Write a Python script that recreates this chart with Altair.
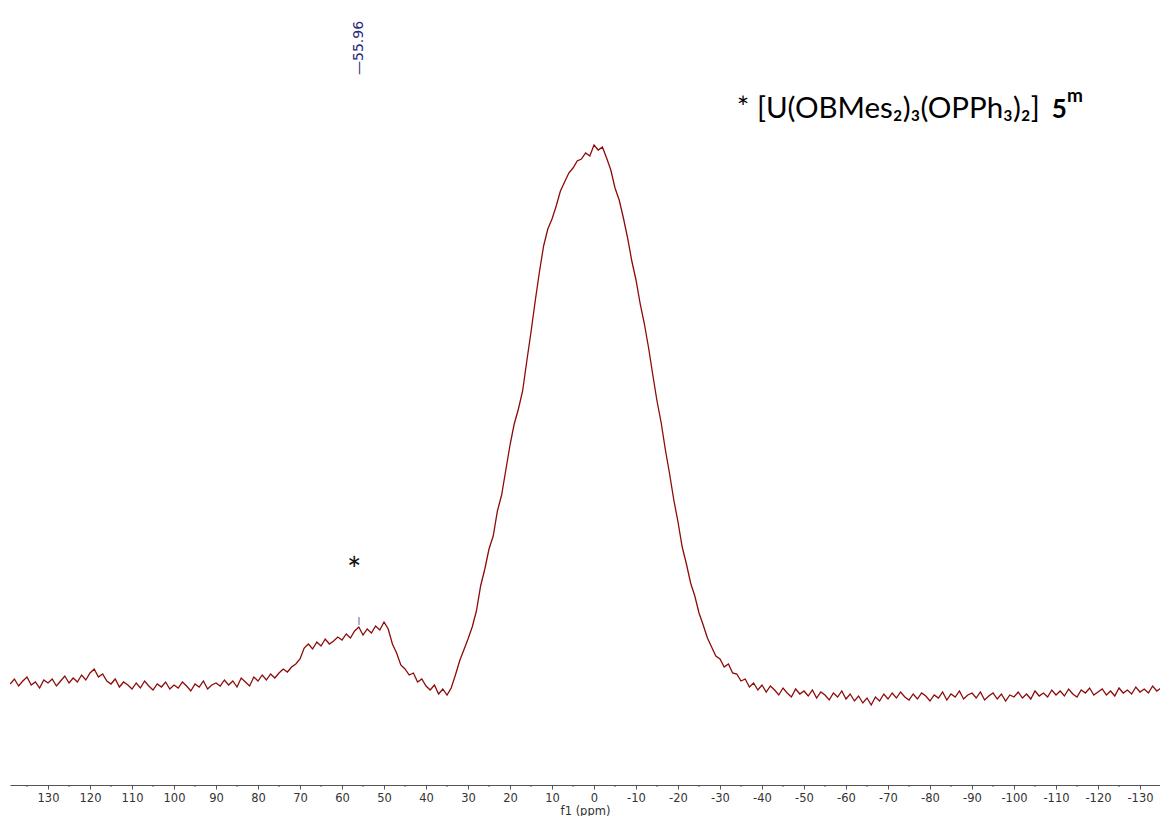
import altair as alt
import pandas as pd

# ---- spectrum (f1 ppm grid, intensity in arbitrary units) ----
ppm = list(range(139, -136, -1))
intensity = [
    101, 106, 99, 104, 108, 100, 103, 97, 105, 102,      # 139..130
    106, 99, 104, 109, 102, 107, 103, 110, 105, 112,     # 129..120
    116, 108, 111, 104, 101, 106, 98, 103, 100, 96,      # 119..110
    102, 97, 104, 99, 95, 101, 98, 103, 96, 100,         # 109..100
    97, 103, 99, 94, 101, 98, 104, 96, 100, 102,         # 99..90
    99, 105, 100, 104, 98, 107, 103, 99, 108, 104,       # 89..80
    110, 105, 111, 107, 112, 116, 113, 118, 121, 126,    # 79..70
    137, 141, 136, 143, 139, 146, 141, 144, 148, 145,    # 69..60
    151, 147, 154, 158, 150, 156, 152, 159, 155, 163,    # 59..50
    156, 141, 132, 120, 116, 110, 112, 103, 106, 99,     # 49..40
    95, 100, 91, 96, 90, 97, 110, 124, 135, 146,         # 39..30
    158, 174, 199, 216, 236, 249, 274, 290, 315, 340,    # 29..20
    361, 376, 394, 424, 453, 484, 513, 539, 556, 566,    # 19..10
    579, 594, 603, 612, 617, 624, 626, 632, 629, 640,    # 9..0
    635, 638, 627, 615, 597, 585, 567, 547, 524, 505,    # -1..-10
    481, 461, 437, 410, 384, 362, 335, 311, 285, 263,    # -11..-20
    238, 221, 202, 189, 172, 160, 147, 138, 129, 126,    # -21..-30
    118, 121, 112, 111, 104, 106, 98, 102, 95, 100,      # -31..-40
    93, 99, 95, 90, 97, 92, 88, 96, 91, 94,              # -41..-50
    89, 95, 87, 93, 90, 85, 92, 88, 94, 86,              # -51..-60
    91, 84, 89, 82, 87, 80, 88, 84, 91, 86,              # -61..-70
    92, 87, 93, 88, 85, 91, 86, 92, 89, 84,              # -71..-80
    90, 87, 93, 85, 91, 88, 94, 86, 90, 92,              # -81..-90
    87, 93, 85, 89, 92, 86, 91, 84, 90, 88,              # -91..-100
    93, 87, 91, 86, 94, 89, 92, 88, 95, 90,              # -101..-110
    94, 89, 96, 91, 88, 95, 92, 97, 90, 93,              # -111..-120
    96, 90, 94, 89, 97, 92, 95, 91, 98, 93,              # -121..-130
    96, 92, 99, 94, 97,                                  # -131..-135
]

major_ticks = list(range(130, -131, -10))
minor_ticks = list(range(135, -136, -10))

peak_ppm = [55.96]
peak_label = ["\u201455.96"]
peak_label_height = [710]
peak_mark_low = [160]
peak_mark_high = [168]

star_ppm = [57.1]
star_height = [203]

title_main = ["* [U(OBMes\u2082)\u2083(OPPh\u2083)\u2082]"]
title_main_ppm = [-34.0]
title_main_height = [667]
title_bold = ["5"]
title_bold_ppm = [-109.0]
title_sup = ["m"]
title_sup_ppm = [-112.6]
title_sup_height = [683]

# ---- layout ----
W, H = 1150, 777
x_scale = alt.Scale(domain=[-134.76, 139.05], reverse=True, nice=False, zero=False)
y_scale = alt.Scale(domain=[0, 777], nice=False, zero=False)

spec_df = pd.DataFrame({"ppm": ppm, "intensity": intensity})

x_axis = alt.Axis(
    values=major_ticks,
    labelExpr="'' + datum.value",
    title="f1 (ppm)",
    grid=False,
    domainColor="#555555",
    tickColor="#555555",
    tickSize=4,
    labelFont="DejaVu Sans",
    labelFontSize=11.5,
    labelColor="#333333",
    labelPadding=3,
    labelFlush=False,
    labelOverlap=False,
    titleFont="DejaVu Sans",
    titleFontSize=11.5,
    titleFontWeight="normal",
    titleColor="#333333",
    titleBaseline="alphabetic",
    titleY=29,
)

line = alt.Chart(spec_df).mark_line(color="#8b0a0a", strokeWidth=1.3, clip=True).encode(
    x=alt.X("ppm:Q", scale=x_scale, axis=x_axis),
    y=alt.Y("intensity:Q", scale=y_scale, axis=None),
)

minor = alt.Chart(pd.DataFrame({"ppm": minor_ticks})).mark_rule(
    color="#555555", strokeWidth=1
).encode(
    x=alt.X("ppm:Q", scale=x_scale),
    y=alt.value(H),
    y2=alt.value(H + 2),
)

peak_df = pd.DataFrame({
    "ppm": peak_ppm, "label": peak_label, "h": peak_label_height,
    "lo": peak_mark_low, "hi": peak_mark_high,
})

peak_text = alt.Chart(peak_df).mark_text(
    angle=270, align="left", baseline="middle", font="DejaVu Sans",
    fontSize=14, color="#1f2b7a",
).encode(
    x=alt.X("ppm:Q", scale=x_scale),
    y=alt.Y("h:Q", scale=y_scale, axis=None),
    text="label:N",
)

peak_mark = alt.Chart(peak_df).mark_rule(color="#8a96d0", strokeWidth=1.5).encode(
    x=alt.X("ppm:Q", scale=x_scale),
    y=alt.Y("lo:Q", scale=y_scale, axis=None),
    y2="hi:Q",
)

star = alt.Chart(pd.DataFrame({"ppm": star_ppm, "h": star_height, "t": ["*"]})).mark_text(
    align="center", baseline="alphabetic", font="Lato", fontSize=34, color="#111111",
).encode(
    x=alt.X("ppm:Q", scale=x_scale),
    y=alt.Y("h:Q", scale=y_scale, axis=None),
    text="t:N",
)

t_main = alt.Chart(pd.DataFrame({"ppm": title_main_ppm, "h": title_main_height, "t": title_main})).mark_text(
    align="left", baseline="alphabetic", font="Lato", fontSize=29.5, color="#000000",
).encode(
    x=alt.X("ppm:Q", scale=x_scale),
    y=alt.Y("h:Q", scale=y_scale, axis=None),
    text="t:N",
)

t_bold = alt.Chart(pd.DataFrame({"ppm": title_bold_ppm, "h": title_main_height, "t": title_bold})).mark_text(
    align="left", baseline="alphabetic", font="Lato", fontSize=26, fontWeight="bold", color="#000000",
).encode(
    x=alt.X("ppm:Q", scale=x_scale),
    y=alt.Y("h:Q", scale=y_scale, axis=None),
    text="t:N",
)

t_sup = alt.Chart(pd.DataFrame({"ppm": title_sup_ppm, "h": title_sup_height, "t": title_sup})).mark_text(
    align="left", baseline="alphabetic", font="Lato", fontSize=19, fontWeight="bold", color="#000000",
).encode(
    x=alt.X("ppm:Q", scale=x_scale),
    y=alt.Y("h:Q", scale=y_scale, axis=None),
    text="t:N",
)

chart = alt.layer(line, minor, peak_mark, peak_text, star, t_main, t_bold, t_sup).properties(
    width=W,
    height=H,
    padding={"left": 2, "top": 0, "right": 0, "bottom": 31},
    autosize=alt.AutoSizeParams(type="none"),
).configure_view(stroke=None)

chart.save("out.html", embed_options={"renderer": "svg", "actions": False})
